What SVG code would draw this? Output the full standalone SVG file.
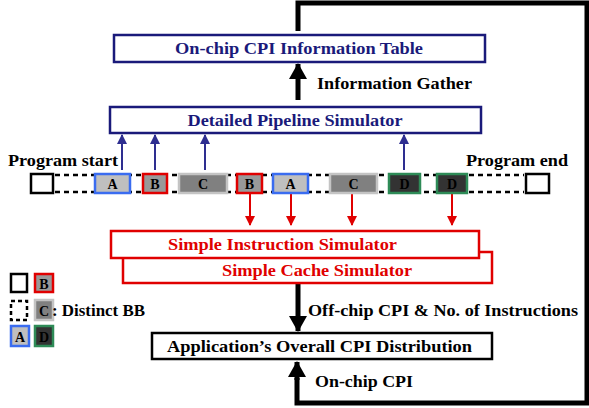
<svg xmlns="http://www.w3.org/2000/svg" width="589" height="408" viewBox="0 0 589 408" font-family="'Liberation Serif', 'Times New Roman', 'DejaVu Serif', serif">
<style>
text{font-family:'Liberation Serif','Times New Roman','DejaVu Serif',serif;font-weight:bold}
.lbl{font-size:16px;fill:#000}
.nv{fill:#1a1a7a;font-size:16px}
.rd{fill:#e00000;font-size:16px}
.bb{font-size:14px;fill:#000;text-anchor:middle}
.navybox{fill:#fff;stroke:#1a1a7a;stroke-width:2.5}
.redbox{fill:#fff;stroke:#e00000;stroke-width:2.5}
.blk{fill:#fff;stroke:#000;stroke-width:2.5}
.thick{stroke:#000;stroke-width:5;fill:none}
.ba{stroke:#2e2e90;stroke-width:2;fill:none}
.ra{stroke:#e00000;stroke-width:2;fill:none}
.dash{stroke:#000;stroke-width:2.5;stroke-dasharray:5,4;fill:none}
.bA{fill:#bfbfbf;stroke:#3a6cf0;stroke-width:2.5}
.bB{fill:#999;stroke:#e00000;stroke-width:2.5}
.bC{fill:#808080;stroke:#c4c4c4;stroke-width:2.5}
.bD{fill:#333;stroke:#2e8b57;stroke-width:2.5}
.sq{fill:#fff;stroke:#000;stroke-width:2.5}
</style>
<defs>
<marker id="mb" markerWidth="10" markerHeight="10" refX="9" refY="5" orient="auto" markerUnits="userSpaceOnUse"><path d="M0,0 L10,5 L0,10 Z" fill="#2e2e90"/></marker>
<marker id="mr" markerWidth="10" markerHeight="10" refX="9" refY="5" orient="auto" markerUnits="userSpaceOnUse"><path d="M0,0 L10,5 L0,10 Z" fill="#e00000"/></marker>
<marker id="mk" markerWidth="16" markerHeight="18" refX="15" refY="9" orient="auto" markerUnits="userSpaceOnUse"><path d="M0,0 L16,9 L0,18 Z" fill="#000"/></marker>
</defs>

<g id="connectors">
<polyline class="thick" points="298,31 298,3 587,3 587,403 297,403 297,378"/>
<line class="thick" x1="297" y1="380" x2="297" y2="362" marker-end="url(#mk)"/>
<line class="thick" x1="298" y1="100" x2="298" y2="64" marker-end="url(#mk)"/>
<line class="thick" x1="298" y1="284" x2="298" y2="331" marker-end="url(#mk)"/>
<line class="ba" x1="122" y1="170" x2="122" y2="135" marker-end="url(#mb)"/>
<line class="ba" x1="155" y1="170" x2="155" y2="135" marker-end="url(#mb)"/>
<line class="ba" x1="205" y1="170" x2="205" y2="135" marker-end="url(#mb)"/>
<line class="ba" x1="404" y1="170" x2="404" y2="135" marker-end="url(#mb)"/>
<line class="ra" x1="250" y1="194" x2="250" y2="225" marker-end="url(#mr)"/>
<line class="ra" x1="291" y1="194" x2="291" y2="225" marker-end="url(#mr)"/>
<line class="ra" x1="352" y1="194" x2="352" y2="225" marker-end="url(#mr)"/>
<line class="ra" x1="452" y1="194" x2="452" y2="225" marker-end="url(#mr)"/>
</g>

<g id="info-table">
<rect class="navybox" x="114" y="35" width="371" height="27"/>
<text class="nv" x="299" y="54" text-anchor="middle" textLength="248" lengthAdjust="spacingAndGlyphs">On-chip CPI Information Table</text>
</g>
<text class="lbl" x="317" y="89" textLength="155" lengthAdjust="spacingAndGlyphs">Information Gather</text>

<g id="pipeline-sim">
<rect class="navybox" x="110" y="107" width="371" height="26"/>
<text class="nv" x="295" y="126" text-anchor="middle" textLength="215" lengthAdjust="spacingAndGlyphs">Detailed Pipeline Simulator</text>
</g>

<text class="lbl" x="8" y="166" textLength="110" lengthAdjust="spacingAndGlyphs">Program start</text>
<text class="lbl" x="466" y="166" textLength="102" lengthAdjust="spacingAndGlyphs">Program end</text>

<g id="bb-row">
<line class="dash" x1="55" y1="175" x2="524" y2="175"/>
<line class="dash" x1="55" y1="192" x2="524" y2="192"/>
<rect class="sq" x="31" y="174" width="22" height="19"/>
<rect class="sq" x="526" y="174" width="23" height="19"/>
<rect class="bA" x="95" y="174" width="35" height="19"/><text class="bb" x="112.5" y="189">A</text>
<rect class="bB" x="143" y="174" width="24" height="19"/><text class="bb" x="155" y="189">B</text>
<rect class="bC" x="179" y="174" width="48" height="19"/><text class="bb" x="203" y="189">C</text>
<rect class="bB" x="237" y="174" width="25" height="19"/><text class="bb" x="249.5" y="189">B</text>
<rect class="bA" x="273" y="174" width="35" height="19"/><text class="bb" x="290.5" y="189">A</text>
<rect class="bC" x="330" y="174" width="47" height="19"/><text class="bb" x="353.5" y="189">C</text>
<rect class="bD" x="389" y="174" width="31" height="19"/><text class="bb" x="404.5" y="189">D</text>
<rect class="bD" x="437" y="174" width="30" height="19"/><text class="bb" x="452" y="189">D</text>
</g>

<g id="cache-sim">
<rect class="redbox" x="123" y="252" width="369" height="31"/>
<text class="rd" x="317" y="276" text-anchor="middle" textLength="190" lengthAdjust="spacingAndGlyphs">Simple Cache Simulator</text>
</g>
<g id="instr-sim">
<rect class="redbox" x="111" y="231" width="368" height="27"/>
<text class="rd" x="282.5" y="250" text-anchor="middle" textLength="229" lengthAdjust="spacingAndGlyphs">Simple Instruction Simulator</text>
</g>

<text class="lbl" x="308" y="316" textLength="270" lengthAdjust="spacingAndGlyphs">Off-chip CPI &amp; No. of Instructions</text>

<g id="overall">
<rect class="blk" x="152" y="333" width="340" height="26"/>
<text class="lbl" x="319.5" y="352" text-anchor="middle" textLength="305" lengthAdjust="spacingAndGlyphs">Application’s Overall CPI Distribution</text>
</g>
<text class="lbl" x="315" y="387" textLength="98" lengthAdjust="spacingAndGlyphs">On-chip CPI</text>

<g id="legend">
<rect class="sq" x="11" y="274" width="16" height="18"/>
<rect class="bB" x="35" y="274" width="18" height="18"/><text class="bb" x="44" y="289">B</text>
<rect class="sq" x="11" y="301" width="16" height="19" style="stroke-dasharray:4,3"/>
<rect class="bC" x="35" y="300" width="18" height="20"/><text class="bb" x="44" y="316">C</text>
<text class="lbl" x="52" y="316" textLength="93" lengthAdjust="spacingAndGlyphs">: Distinct BB</text>
<rect class="bA" x="11" y="326" width="18" height="20"/><text class="bb" x="20" y="342">A</text>
<rect class="bD" x="35" y="326" width="18" height="20"/><text class="bb" x="44" y="342">D</text>
</g>
</svg>
